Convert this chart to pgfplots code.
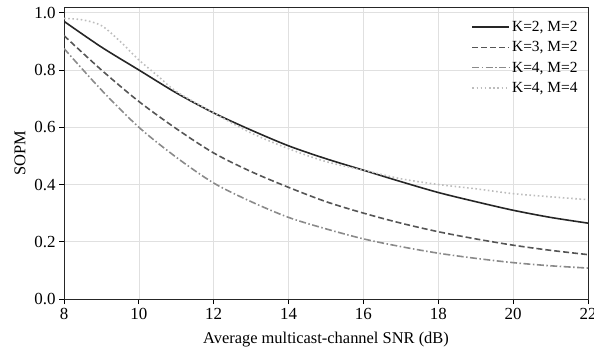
\documentclass[border=0pt]{standalone}
\usepackage{pgfplots}
\pgfplotsset{compat=1.18}
\usepackage{fontspec}
\setmainfont{Liberation Serif}
\definecolor{c1}{HTML}{262626}
\definecolor{c2}{HTML}{555555}
\definecolor{c3}{HTML}{8A8A8A}
\definecolor{c4}{HTML}{BDBDBD}
\begin{document}
\begin{tikzpicture}
\begin{axis}[
  name=ax,
  scale only axis,
  width=524bp, height=292bp,
  xmin=8, xmax=22, ymin=0, ymax=1.02,
  xtick={8,10,...,22}, ytick={0,0.2,...,1.0},
  yticklabel style={/pgf/number format/.cd,fixed,fixed zerofill,precision=1},
  /pgf/number format/assume math mode=true,
  tick label style={font=\fontsize{17}{19}\selectfont},
  xticklabel style={yshift=-1bp},
  label style={font=\fontsize{16.5}{19}\selectfont},
  xlabel={Average multicast-channel SNR (dB)},
  ylabel={SOPM},
  xlabel style={yshift=-5bp},
  ylabel style={yshift=2bp},
  grid=major,
  major grid style={color=black!12, line width=0.6pt},
  axis line style={line width=0.9pt, black!85},
  tick style={black, line width=0.8pt},
  tick align=outside,
  xtick pos=bottom, ytick pos=left,
  major tick length=5bp,
  legend style={draw=none, fill=none, at={(0.99,0.965)}, anchor=north east,
    font=\fontsize{15.5}{17}\selectfont, row sep=4.5bp},
  legend cell align=left,
  legend image code/.code={\draw[#1] (0bp,0bp) -- (31bp,0bp); \path (0bp,0bp) -- (37bp,0bp);},
  every axis plot/.append style={line width=1.6pt},
]
\addplot[c1, solid, smooth] coordinates {(8,0.97) (9,0.88) (10,0.80) (11,0.72) (12,0.65) (13,0.59) (14,0.535) (15,0.49) (16,0.45) (17,0.41) (18,0.372) (19,0.34) (20,0.31) (21,0.285) (22,0.265)};
\addlegendentry{K=2, M=2}
\addplot[c2, smooth, dash pattern=on 6pt off 3pt] coordinates {(8,0.92) (9,0.80) (10,0.69) (11,0.595) (12,0.51) (13,0.445) (14,0.39) (15,0.34) (16,0.30) (17,0.265) (18,0.235) (19,0.21) (20,0.188) (21,0.17) (22,0.155)};
\addlegendentry{K=3, M=2}
\addplot[c3, smooth, dash pattern=on 7pt off 2.5pt on 1.5pt off 2.5pt] coordinates {(8,0.875) (9,0.73) (10,0.60) (11,0.495) (12,0.405) (13,0.34) (14,0.285) (15,0.245) (16,0.21) (17,0.183) (18,0.16) (19,0.142) (20,0.127) (21,0.116) (22,0.108)};
\addlegendentry{K=4, M=2}
\addplot[c4, smooth, dash pattern=on 1.6pt off 2.6pt] coordinates {(8,0.98) (8.5,0.975) (9,0.955) (9.5,0.90) (10,0.835) (10.5,0.78) (11,0.725) (12,0.65) (13,0.58) (14,0.525) (15,0.48) (16,0.45) (17,0.42) (18,0.40) (19,0.385) (20,0.368) (21,0.357) (22,0.347)};
\addlegendentry{K=4, M=4}
\end{axis}
\pgfresetboundingbox
\path[use as bounding box] (ax.south west) ++(-64bp,-50bp) rectangle ++(594bp,349bp);
\end{tikzpicture}
\end{document}
